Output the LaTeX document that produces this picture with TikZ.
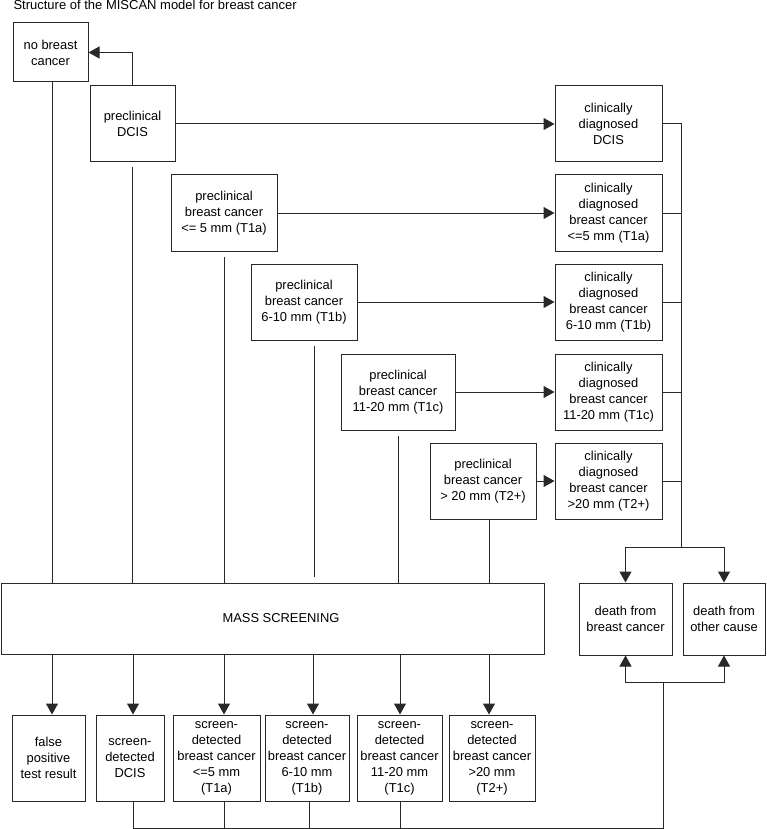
\documentclass[tikz,border=0pt]{standalone}
\usepackage{fontspec}
\setmainfont{Liberation Sans}
\usetikzlibrary{arrows.meta,calc}
\definecolor{linec}{RGB}{40,40,40}
\begin{document}
\begin{tikzpicture}[x=1pt,y=-1pt,
  box/.style={draw=linec, line width=1pt, rectangle, inner sep=0pt, align=center,
    font=\fontsize{12.9}{16}\selectfont},
  conn/.style={draw=linec, line width=1pt},
  arr/.style={conn, -{Triangle[length=11pt,width=12pt]}}]
\useasboundingbox (0,0) rectangle (766,829);

\node[anchor=base west, font=\fontsize{13}{16}\selectfont] (title) at (10,10) {Structure of the MISCAN model for breast cancer};

% top left
\node[box, minimum width=75pt, minimum height=59pt] (nbc) at (50.5,52.5) {no breast\\cancer};
\node[box, minimum width=85pt, minimum height=76pt] (pdcis) at (132.5,124) {preclinical\\DCIS};
% preclinical
\node[box, minimum width=106pt, minimum height=76pt] (p1) at (224,213) {preclinical\\breast cancer\\<= 5 mm (T1a)};
\node[box, minimum width=106pt, minimum height=76pt] (p2) at (304,302) {preclinical\\breast cancer\\6-10 mm (T1b)};
\node[box, minimum width=114pt, minimum height=76pt] (p3) at (398,392) {preclinical\\breast cancer\\11-20 mm (T1c)};
\node[box, minimum width=106pt, minimum height=76pt] (p4) at (483,481) {preclinical\\breast cancer\\> 20 mm (T2+)};
% clinical
\node[box, minimum width=107pt, minimum height=76pt] (cd0) at (608.5,124) {clinically\\diagnosed\\DCIS};
\node[box, minimum width=107pt, minimum height=76pt] (cd1) at (608.5,213) {clinically\\diagnosed\\breast cancer\\<=5 mm (T1a)};
\node[box, minimum width=107pt, minimum height=76pt] (cd2) at (608.5,302) {clinically\\diagnosed\\breast cancer\\6-10 mm (T1b)};
\node[box, minimum width=107pt, minimum height=76pt] (cd3) at (608.5,392) {clinically\\diagnosed\\breast cancer\\11-20 mm (T1c)};
\node[box, minimum width=107pt, minimum height=76pt] (cd4) at (608.5,481) {clinically\\diagnosed\\breast cancer\\>20 mm (T2+)};
% mass screening and death
\node[box, minimum width=543pt, minimum height=71pt] (ms) at (272.5,618.5) {\hspace*{17pt}MASS SCREENING};
\node[box, minimum width=93pt, minimum height=72pt] (dbc) at (625.5,619) {death from\\breast cancer};
\node[box, minimum width=82pt, minimum height=72pt] (doc) at (724,619) {death from\\other cause};
% bottom row
\node[box, minimum width=73pt, minimum height=86pt] (fp) at (48.5,758) {false\\positive\\test result};
\node[box, minimum width=68pt, minimum height=86pt] (sd0) at (130,758) {screen-\\detected\\DCIS};
\node[box, minimum width=87pt, minimum height=86pt] (sd1) at (216.5,758) {screen-\\detected\\breast cancer\\<=5 mm\\(T1a)};
\node[box, minimum width=84pt, minimum height=86pt] (sd2) at (307,758) {screen-\\detected\\breast cancer\\6-10 mm\\(T1b)};
\node[box, minimum width=85pt, minimum height=86pt] (sd3) at (399.5,758) {screen-\\detected\\breast cancer\\11-20 mm\\(T1c)};
\node[box, minimum width=86pt, minimum height=86pt] (sd4) at (492,758) {screen-\\detected\\breast cancer\\>20 mm\\(T2+)};

% column coordinates
\coordinate (k1) at (52,0);
\coordinate (k2) at (133,0);
\coordinate (k3) at (224,0);
\coordinate (k4) at (313,0);
\coordinate (k5) at (400,0);
\coordinate (k6) at (489,0);
\coordinate (rb) at (681,547);
\coordinate (db) at (663,682);
\coordinate (bb) at (663,828);

% top connections
\draw[arr] (pdcis.north) |- (nbc.east);
\draw[arr] (pdcis.east) -- (cd0.west);
\draw[arr] (p1.east) -- (cd1.west);
\draw[arr] (p2.east) -- (cd2.west);
\draw[arr] (p3.east) -- (cd3.west);
\draw[arr] (p4.east) -- (cd4.west);

% down into mass screening
\draw[conn] (k1 |- nbc.south) -- (k1 |- ms.north);
\draw[conn, shorten <=5pt] (pdcis.south) -- (pdcis.south |- ms.north);
\draw[conn, shorten <=5pt] (p1.south) -- (p1.south |- ms.north);
\draw[conn] ($(p2.south)+(10,5)$) -- ($(p2.south |- ms.north)+(10,-6)$);
\draw[conn, shorten <=5pt] (p3.south) -- (p3.south |- ms.north);
\draw[conn] (k6 |- p4.south) -- (k6 |- ms.north);

% mass screening to outcomes
\draw[arr] (k1 |- ms.south) -- (k1 |- fp.north);
\draw[arr] (k2 |- ms.south) -- (k2 |- sd0.north);
\draw[arr] (k3 |- ms.south) -- (k3 |- sd1.north);
\draw[arr] (k4 |- ms.south) -- (k4 |- sd2.north);
\draw[arr] (k5 |- ms.south) -- (k5 |- sd3.north);
\draw[arr] (k6 |- ms.south) -- (k6 |- sd4.north);

% clinical bus
\draw[conn] (cd0.east) -| (rb);
\draw[conn] (cd1.east) -- (cd1.east -| rb);
\draw[conn] (cd2.east) -- (cd2.east -| rb);
\draw[conn] (cd3.east) -- (cd3.east -| rb);
\draw[conn] (cd4.east) -- (cd4.east -| rb);
\draw[arr] (rb) -| (dbc.north);
\draw[arr] (rb) -| (doc.north);

% bottom bus
\draw[arr] (db) -| (dbc.south);
\draw[arr] (db) -| (doc.south);
\draw[conn] (db) -- (bb) -- (k2 |- bb);
\draw[conn] (k2 |- sd0.south) -- (k2 |- bb);
\draw[conn] (k3 |- sd1.south) -- (k3 |- bb);
\draw[conn] ($(sd2.south)+(2,0)$) -- ($(sd2.south |- bb)+(2,0)$);
\draw[conn] (k5 |- sd3.south) -- (k5 |- bb);
\end{tikzpicture}
\end{document}
